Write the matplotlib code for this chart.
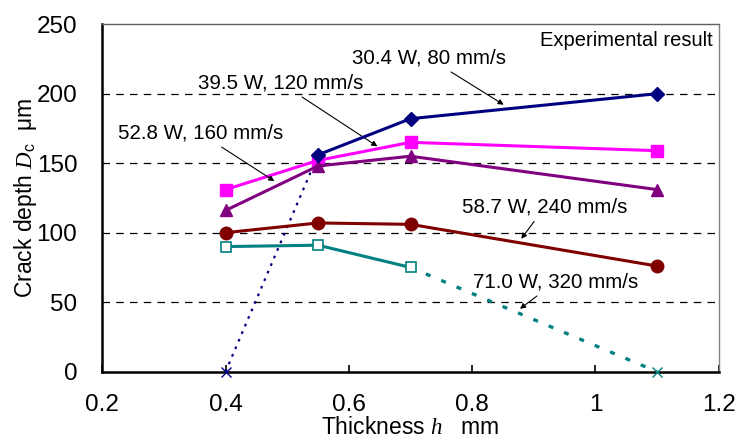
import matplotlib
matplotlib.use("Agg")
import matplotlib.pyplot as plt

plt.rcParams['font.family'] = ['Liberation Sans', 'DejaVu Sans']
plt.rcParams['mathtext.fontset'] = 'custom'
plt.rcParams['mathtext.it'] = 'Liberation Serif:italic'
plt.rcParams['mathtext.rm'] = 'Liberation Sans'

# data
thick = [0.4, 0.55, 0.7, 1.1]
d_304 = [156, 182, 200]          # 30.4 W, 80 mm/s (from 0.55)
d_395 = [131, 152, 165, 159]     # 39.5 W, 120 mm/s
d_528 = [116, 148, 155, 131]     # 52.8 W, 160 mm/s
d_587 = [100, 107, 106, 76]      # 58.7 W, 240 mm/s
d_710 = [90, 91, 75]             # 71.0 W, 320 mm/s (up to 0.7)
no_crack_304 = (0.4, 0)
no_crack_710 = (1.1, 0)

labels = ["30.4 W, 80 mm/s", "39.5 W, 120 mm/s", "52.8 W, 160 mm/s",
          "58.7 W, 240 mm/s", "71.0 W, 320 mm/s"]

fig = plt.figure(figsize=(7.37, 4.47), dpi=100)
ax = fig.add_axes([0.1388, 0.1685, 0.8364, 0.7774])

navy = '#000080'
magenta = '#FF00FF'
purple = '#800080'
darkred = '#800000'
teal = '#008080'

# extrapolated parts
ax.plot([no_crack_304[0], thick[1]], [no_crack_304[1], d_304[0]], color=navy, lw=1.6,
        ls=(0, (1.2, 2.5)), zorder=2)
ax.plot([thick[2], no_crack_710[0]], [d_710[-1], no_crack_710[1]], color=teal, lw=2.4,
        ls=(0, (1.5, 3.5)), zorder=2)
ax.plot(*no_crack_304, marker='x', color=navy, ms=7, mew=1.0, clip_on=False, zorder=5)
ax.plot(*no_crack_710, marker='x', color=teal, ms=7, mew=1.0, clip_on=False, zorder=5)

ax.plot(thick[1:], d_304, color=navy, lw=2.2, marker='D', ms=7, zorder=4)
ax.plot(thick, d_395, color=magenta, lw=2.2, marker='s', ms=8, zorder=3)
ax.plot(thick, d_528, color=purple, lw=2.2, marker='^', ms=9, zorder=3)
ax.plot(thick, d_587, color=darkred, lw=2.2, marker='o', ms=9, zorder=3)
ax.plot(thick[:3], d_710, color=teal, lw=2.2, marker='s', ms=7.5, mfc='white',
        mew=1.2, zorder=3)

ax.set_xlim(0.2, 1.2)
ax.set_ylim(0, 250)
ax.set_xticks([0.2, 0.4, 0.6, 0.8, 1.0, 1.2])
ax.set_xticklabels(['0.2', '0.4', '0.6', '0.8', '1', '1.2'])
ax.set_yticks([0, 50, 100, 150, 200, 250])
ax.tick_params(axis='both', direction='in', labelsize=17.5, length=5, width=1.2)
ax.tick_params(axis='x', pad=16)
ax.tick_params(axis='y', length=0, pad=18)

for g in [50, 100, 150, 200]:
    ax.axhline(g, color='black', lw=0.9, ls=(0, (6, 5)), zorder=1)

ax.spines['left'].set_linewidth(1.8)
ax.spines['bottom'].set_linewidth(1.8)
ax.spines['top'].set_color('#606060')
ax.spines['top'].set_linewidth(1.0)
ax.spines['right'].set_color('#808080')
ax.spines['right'].set_linewidth(1.0)

ax.set_xlabel('Thickness $h$   mm', fontsize=16.5, labelpad=0)
ax.set_ylabel('Crack depth $D_{\\rm c}$  μm', fontsize=16.5, labelpad=-2)

ax.text(0.99, 0.98, 'Experimental result', transform=ax.transAxes, ha='right',
        va='top', fontsize=14.5)

fs = 14.8
arrow = dict(arrowstyle='-|>', color='black', lw=0.8, mutation_scale=8, shrinkA=2)
ax.annotate(labels[0], xy=(0.855, 191), xytext=(0.730, 225.5), ha='center', va='center',
            fontsize=fs, arrowprops=arrow)
ax.annotate(labels[1], xy=(0.65, 161), xytext=(0.490, 207.5), ha='center', va='center',
            fontsize=fs, arrowprops=arrow)
ax.annotate(labels[2], xy=(0.483, 136), xytext=(0.359, 171.5), ha='center', va='center',
            fontsize=fs, arrowprops=arrow)
ax.annotate(labels[3], xy=(0.877, 94), xytext=(0.918, 118.5), ha='center', va='center',
            fontsize=fs, arrowprops=arrow)
ax.annotate(labels[4], xy=(0.874, 44), xytext=(0.935, 64.5), ha='center', va='center',
            fontsize=fs, arrowprops=arrow)

fig.savefig('out.png', dpi=100)
